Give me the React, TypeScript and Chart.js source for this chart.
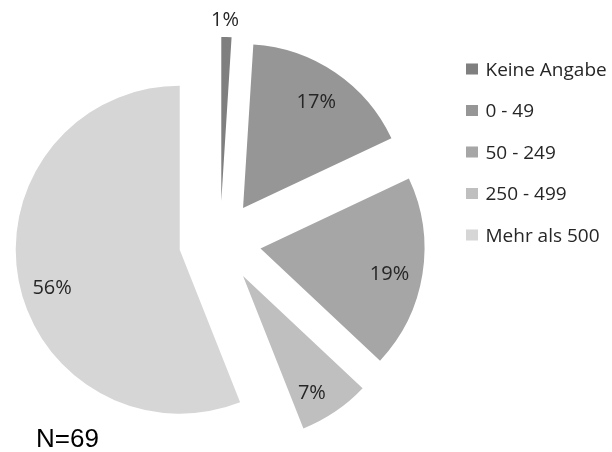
import React, { useEffect, useRef } from 'react';
import { Chart, registerables } from 'chart.js';

Chart.register(...registerables);

// ---- data ----
const categories = ['Keine Angabe', '0 - 49', '50 - 249', '250 - 499', 'Mehr als 500'];
const shares = [1, 17, 19, 7, 56];
const percentLabels = ['1%', '17%', '19%', '7%', '56%'];
const sliceColors = ['#7f7f7f', '#969696', '#a6a6a6', '#bfbfbf', '#d6d6d6'];
const sampleNote = 'N=69';

// ---- styling / placement (not data) ----
const EXPLODE = 41; // px each slice is pulled out
const labelRadius = [1.11, 0.79, 0.8, 0.82, 0.81]; // fraction of radius
const labelNudgeDeg = [-0.6, 0.2, 1.6, 3.4, -5.3];
const TEXT_COLOR = '#262626';

const explodePlugin = {
  id: 'explodeSlices',
  beforeDatasetDraw(chart: any, args: any) {
    const ctx = chart.ctx;
    args.meta.data.forEach((arc: any) => {
      const mid = (arc.startAngle + arc.endAngle) / 2;
      ctx.save();
      ctx.translate(Math.cos(mid) * EXPLODE, Math.sin(mid) * EXPLODE);
      arc.draw(ctx);
      ctx.restore();
    });
    return false;
  },
};

const labelPlugin = {
  id: 'sliceLabels',
  afterDatasetsDraw(chart: any) {
    const ctx = chart.ctx;
    const meta = chart.getDatasetMeta(0);
    ctx.save();
    ctx.font = '20px "Open Sans"';
    ctx.fillStyle = TEXT_COLOR;
    ctx.textAlign = 'center';
    ctx.textBaseline = 'alphabetic';
    meta.data.forEach((arc: any, i: number) => {
      const mid = (arc.startAngle + arc.endAngle) / 2;
      const ax = arc.x + Math.cos(mid) * EXPLODE;
      const ay = arc.y + Math.sin(mid) * EXPLODE;
      const a = mid + (labelNudgeDeg[i] * Math.PI) / 180;
      const r = arc.outerRadius * labelRadius[i];
      const x = ax + Math.cos(a) * r;
      const y = ay + Math.sin(a) * r;
      ctx.fillText(percentLabels[i], x, y + 7.1);
    });
    ctx.restore();
  },
};

const legendPlugin = {
  id: 'sideLegend',
  afterDraw(chart: any) {
    const ctx = chart.ctx;
    const labels: string[] = chart.data.labels;
    const colors: string[] = chart.data.datasets[0].backgroundColor;
    ctx.save();
    ctx.font = '19px "Open Sans"';
    ctx.textAlign = 'left';
    ctx.textBaseline = 'alphabetic';
    labels.forEach((lab, i) => {
      const cy = 69 + i * 41.5;
      ctx.fillStyle = colors[i];
      ctx.fillRect(466, cy - 5.5, 12, 11);
      ctx.fillStyle = TEXT_COLOR;
      ctx.fillText(lab, 485.5, cy + 6.8);
    });
    ctx.font = '26px "Liberation Sans", Arial, sans-serif';
    ctx.fillStyle = '#000000';
    ctx.fillText(sampleNote, 36, 447);
    ctx.restore();
  },
};

export default function App() {
  const canvasRef = useRef<HTMLCanvasElement | null>(null);

  useEffect(() => {
    if (!canvasRef.current) return;
    const chart = new Chart(canvasRef.current, {
      type: 'pie',
      data: {
        labels: categories,
        datasets: [
          {
            data: shares,
            backgroundColor: sliceColors,
            borderWidth: 0,
            hoverOffset: 0,
            offset: 0,
          },
        ],
      },
      options: {
        responsive: false,
        animation: false,
        events: [],
        layout: { padding: { left: 56, right: 228, top: 78, bottom: 46 } },
        plugins: {
          legend: { display: false },
          tooltip: { enabled: false },
          title: { display: false },
        },
      },
      plugins: [explodePlugin, labelPlugin, legendPlugin],
    });
    return () => chart.destroy();
  }, []);

  return (
    <div style={{ position: 'fixed', left: 0, top: 0, width: 612, height: 452, background: '#ffffff' }}>
      <canvas ref={canvasRef} width={612} height={452} style={{ display: 'block' }} />
    </div>
  );
}
